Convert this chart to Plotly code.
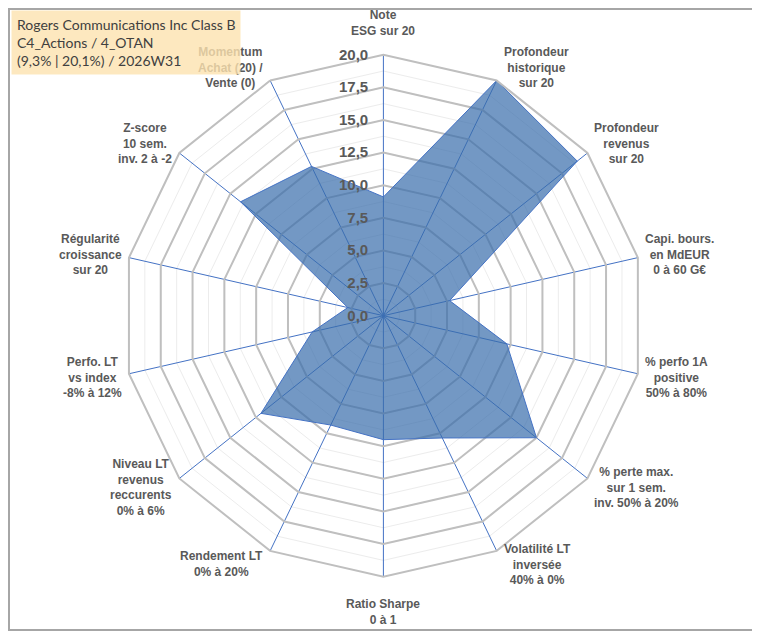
import math

import plotly.graph_objects as go

# Radar scores (0-20) for each criterion, clockwise from the top
criteria = [
    "Note<br>ESG sur 20",
    "Profondeur<br>historique<br>sur 20",
    "Profondeur<br>revenus<br>sur 20",
    "Capi. bours.<br>en MdEUR<br>0 à 60 G€",
    "% perfo 1A<br>positive<br>50% à 80%",
    "% perte max.<br>sur 1 sem.<br>inv. 50% à 20%",
    "Volatilité LT<br>inversée<br>40% à 0%",
    "Ratio Sharpe<br>0 à 1",
    "Rendement LT<br>0% à 20%",
    "Niveau LT<br>revenus<br>reccurents<br>0% à 6%",
    "Perfo. LT<br>vs index<br>-8% à 12%",
    "Régularité<br>croissance<br>sur 20",
    "Z-score<br>10 sem.<br>inv. 2 à -2",
    "Momentum<br>Achat (20) /<br>Vente (0)",
]
scores = [9.1, 20.0, 19.0, 5.2, 9.7, 15.0, 10.4, 9.5, 9.3, 12.0, 5.6, 2.8, 14.0, 12.7]
title_lines = ["Rogers Communications Inc Class B", "C4_Actions / 4_OTAN",
               "(9,3% | 20,1%) / 2026W31"]

# the page body keeps its 8px margin, so the figure is 8px smaller than the window
W, H = 752, 625
label_grey = "#595959"
spoke_blue = "#4472C4"
label_font = "Liberation Sans, Arial, sans-serif"

# radar placement in figure pixels (centre + radius of the 20 ring)
cx, cy, R = 375.4, 307.7, 261
dom_x = [(cx - R) / W, (cx + R) / W]
dom_y = [(H - cy - R) / H, (H - cy + R) / H]

fig = go.Figure()
# base subplot only carries the light minor rings
fig.add_trace(go.Scatterpolar(r=[0] * len(criteria), theta=criteria, mode="lines",
                              line=dict(width=0), hoverinfo="skip",
                              showlegend=False, subplot="polar"))
fig.add_trace(go.Scatterpolar(r=scores + scores[:1], theta=criteria + criteria[:1],
                              mode="lines", fill="toself",
                              fillcolor="rgba(55,108,171,0.7)",
                              line=dict(color=spoke_blue, width=1),
                              showlegend=False, subplot="polar2"))

fig.update_layout(
    width=W, height=H,
    margin=dict(l=0, r=0, t=0, b=0),
    paper_bgcolor="white",
    separators=", ",
    font=dict(family=label_font, color=label_grey),
    polar=dict(
        domain=dict(x=dom_x, y=dom_y),
        bgcolor="white",
        gridshape="linear",
        radialaxis=dict(range=[0, 20], dtick=1.25, showticklabels=False, ticks="",
                        showline=False, gridcolor="#ececec", gridwidth=1),
        angularaxis=dict(rotation=90, direction="clockwise", showticklabels=False,
                         ticks="", showgrid=False, showline=False),
    ),
    polar2=dict(
        domain=dict(x=dom_x, y=dom_y),
        bgcolor="rgba(0,0,0,0)",
        gridshape="linear",
        radialaxis=dict(range=[0, 20], dtick=2.5, tickformat=".1f", angle=90,
                        tickangle=90, side="counterclockwise", ticks="",
                        ticksuffix="\u00a0\u00a0\u00a0",
                        showline=False, gridcolor="#bfbfbf", gridwidth=2,
                        tickfont=dict(size=15, weight="bold", color=label_grey)),
        angularaxis=dict(rotation=90, direction="clockwise", ticks="",
                         showticklabels=False,
                         gridcolor=spoke_blue, gridwidth=1,
                         showline=True, linecolor="#bfbfbf", linewidth=2),
    ),
)

# category labels, centred text blocks just outside each spoke (Excel style)
n = len(criteria)
for i, lab in enumerate(criteria):
    a = math.radians(90 - i * 360 / n)
    ca, sa = math.cos(a), math.sin(a)
    if abs(ca) < 0.1:
        px_, py_ = cx, cy - math.copysign(276 if sa > 0 else 279, sa)
        xa, ya = "center", "bottom" if sa > 0 else "top"
    else:
        px_ = cx + math.copysign(R * abs(ca) + 5, ca)
        py_ = cy - 276 * sa
        xa, ya = ("left" if ca > 0 else "right"), "middle"
    fig.add_annotation(text=lab, xref="paper", yref="paper", x=px_ / W, y=1 - py_ / H,
                       xanchor=xa, yanchor=ya, align="center", showarrow=False,
                       font=dict(size=12, weight="bold", color=label_grey))

# outer chart frame
fig.add_shape(type="rect", xref="paper", yref="paper",
              x0=1 / W, x1=747 / W, y0=1 - 622 / H, y1=1 - 1 / H,
              line=dict(color="#a6a6a6", width=2), fillcolor="rgba(0,0,0,0)")

fig.add_annotation(text="<br>".join(title_lines), xref="paper", yref="paper",
                   x=3 / W, y=1 - 2 / H, xanchor="left", yanchor="top",
                   align="left", showarrow=False,
                   bgcolor="rgba(252,226,175,0.8)", borderpad=5,
                   font=dict(family="Lato, sans-serif", size=14, color="#404040"))

fig.write_html("out.html")
